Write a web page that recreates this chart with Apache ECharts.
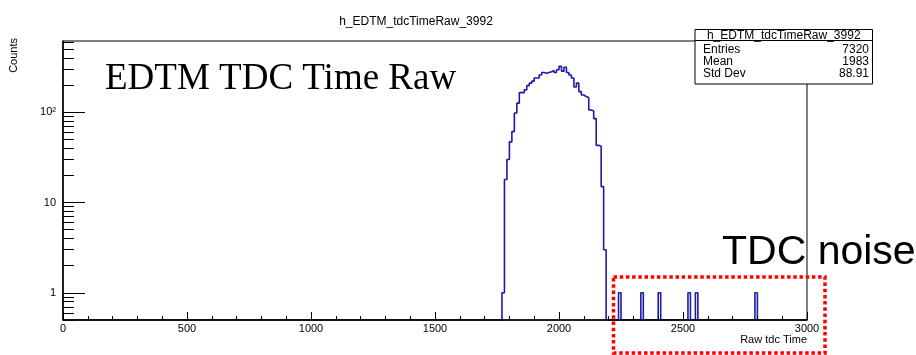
<!DOCTYPE html>
<html>
<head>
<meta charset="utf-8">
<script src="https://cdn.jsdelivr.net/npm/echarts@6/dist/echarts.min.js"></script>
<style>html,body{margin:0;padding:0;background:#fff}#c{width:916px;height:355px}</style>
</head>
<body>
<div id="c"></div>
<script>
// ---- data ----
const histTitle = 'h_EDTM_tdcTimeRaw_3992';
const xTitle = 'Raw tdc Time';
const yTitle = 'Counts';
const binWidth = 10;
const xMin = 0, xMax = 3000;
const peakStart = 1770;
const peakCounts = [1, 18, 30, 47, 61, 98, 126, 165, 165, 177, 197, 210, 221, 239, 239, 258, 275, 270, 275, 280,
  290, 275, 295, 322, 285, 315, 275, 258, 239, 190, 210, 169, 155, 149, 145, 106, 103, 85, 43, 42, 15, 3];
const noiseBins = [2240, 2330, 2400, 2520, 2550, 2790];
const noiseCounts = [1, 1, 1, 1, 1, 1];
const xTicks = [0, 500, 1000, 1500, 2000, 2500, 3000];
const yMajorTicks = [1, 10, 100];
const yMinorTicks = [0.5, 0.6, 0.7, 0.8, 0.9, 2, 3, 4, 5, 6, 7, 8, 9, 20, 30, 40, 50, 60, 70, 80, 90, 200, 300, 400, 500, 600];
const yMin = 0.5, yMax = 615;
const statsLabels = ['Entries', 'Mean', 'Std Dev'];
const statsValues = ['7320', '1983', '88.91'];
const noteMain = 'EDTM TDC Time Raw';
const noteNoise = 'TDC noise';

// ---- build histogram (step outline) ----
const nBins = (xMax - xMin) / binWidth;
const counts = new Array(nBins).fill(0);
peakCounts.forEach((c, i) => { counts[(peakStart - xMin) / binWidth + i] = c; });
noiseBins.forEach((b, i) => { counts[(b - xMin) / binWidth] = noiseCounts[i]; });
const stepData = [];
for (let i = 0; i < nBins; i++) {
  stepData.push([xMin + i * binWidth, counts[i] > 0 ? counts[i] : yMin]);
}
stepData.push([xMax, yMin]);

const font = '"Liberation Sans", Arial, Helvetica, sans-serif';
const chart = echarts.init(document.getElementById('c'), null, {renderer: 'canvas'});
chart.setOption({
  animation: false,
  backgroundColor: '#fff',
  title: {
    text: histTitle, left: 411, top: 11, textAlign: 'center',
    textStyle: {fontFamily: font, fontSize: 12, fontWeight: 'normal', color: '#000'}
  },
  grid: {left: 63, right: 109, top: 41, bottom: 35, show: true, borderColor: '#000', borderWidth: 1, backgroundColor: 'transparent'},
  xAxis: {
    type: 'value', min: xMin, max: xMax, interval: 500,
    name: xTitle, nameLocation: 'end', nameGap: 0,
    nameTextStyle: {fontFamily: font, fontSize: 11, color: '#000', align: 'right', verticalAlign: 'top', padding: [14, 0, 0, 0]},
    axisLine: {lineStyle: {color: '#000', width: 1.5}},
    axisTick: {inside: true, length: 8, lineStyle: {color: '#000', width: 1}},
    minorTick: {show: true, splitNumber: 5, length: 4, lineStyle: {color: '#000', width: 1}},
    axisLabel: {fontFamily: font, fontSize: 11, color: '#000', margin: 3, customValues: xTicks,
      formatter: v => String(Math.round(v))},
    splitLine: {show: false}, minorSplitLine: {show: false},
    z: 5
  },
  yAxis: [{
    type: 'log', logBase: 10, min: yMin, max: yMax,
    axisLine: {show: true, lineStyle: {color: '#000', width: 1.5}},
    axisTick: {inside: true, length: 22, customValues: yMajorTicks, lineStyle: {color: '#000', width: 1}},
    axisLabel: {fontFamily: font, fontSize: 11, color: '#000', margin: 7, customValues: yMajorTicks,
      formatter: v => (Math.abs(v - 100) < 1e-6 ? '10²' : String(Math.round(v)))},
    splitLine: {show: false},
    z: 5
  }, {
    type: 'log', logBase: 10, min: yMin, max: yMax, position: 'left',
    axisLine: {show: false},
    axisTick: {show: true, inside: true, length: 11, customValues: yMinorTicks, lineStyle: {color: '#000', width: 1}},
    axisLabel: {show: false},
    splitLine: {show: false},
    z: 5
  }],
  series: [{
    type: 'line', step: 'end', data: stepData, showSymbol: false, clip: true,
    lineStyle: {color: '#1b1ba6', width: 1.6}, yAxisIndex: 0
  }],
  graphic: [
    {type: 'text', x: 8, y: 38, rotation: Math.PI / 2,
      style: {text: yTitle, font: '11px ' + font, fill: '#000', textAlign: 'right', textVerticalAlign: 'top'}},
    {type: 'text', x: 105, y: 61, style: {text: noteMain, font: '37px "Liberation Serif", "Times New Roman", serif', fill: '#000'}},
    {type: 'text', x: 722, y: 232, style: {text: noteNoise, font: '41px ' + font, fill: '#000'}},
    {type: 'rect', shape: {x: 613.5, y: 277, width: 211.5, height: 76}, style: {fill: 'none', stroke: '#ff0000', lineWidth: 3.5, lineDash: [3.5, 2.7]}},
    {type: 'group', x: 695, y: 29.5, children: [
      {type: 'rect', shape: {x: 0, y: 0, width: 177.5, height: 54.5}, style: {fill: '#fff', stroke: '#000', lineWidth: 1}},
      {type: 'line', shape: {x1: 0, y1: 11, x2: 177.5, y2: 11}, style: {stroke: '#000', lineWidth: 1}},
      {type: 'text', x: 88.75, y: 0, style: {text: histTitle, font: '12px ' + font, fill: '#000', textAlign: 'center'}},
      {type: 'text', x: 8, y: 14, style: {text: statsLabels.join('\n'), font: '12px ' + font, lineHeight: 12, fill: '#000'}},
      {type: 'text', x: 174, y: 14, style: {text: statsValues.join('\n'), font: '12px ' + font, lineHeight: 12, fill: '#000', textAlign: 'right'}}
    ]}
  ]
});
</script>
</body>
</html>
